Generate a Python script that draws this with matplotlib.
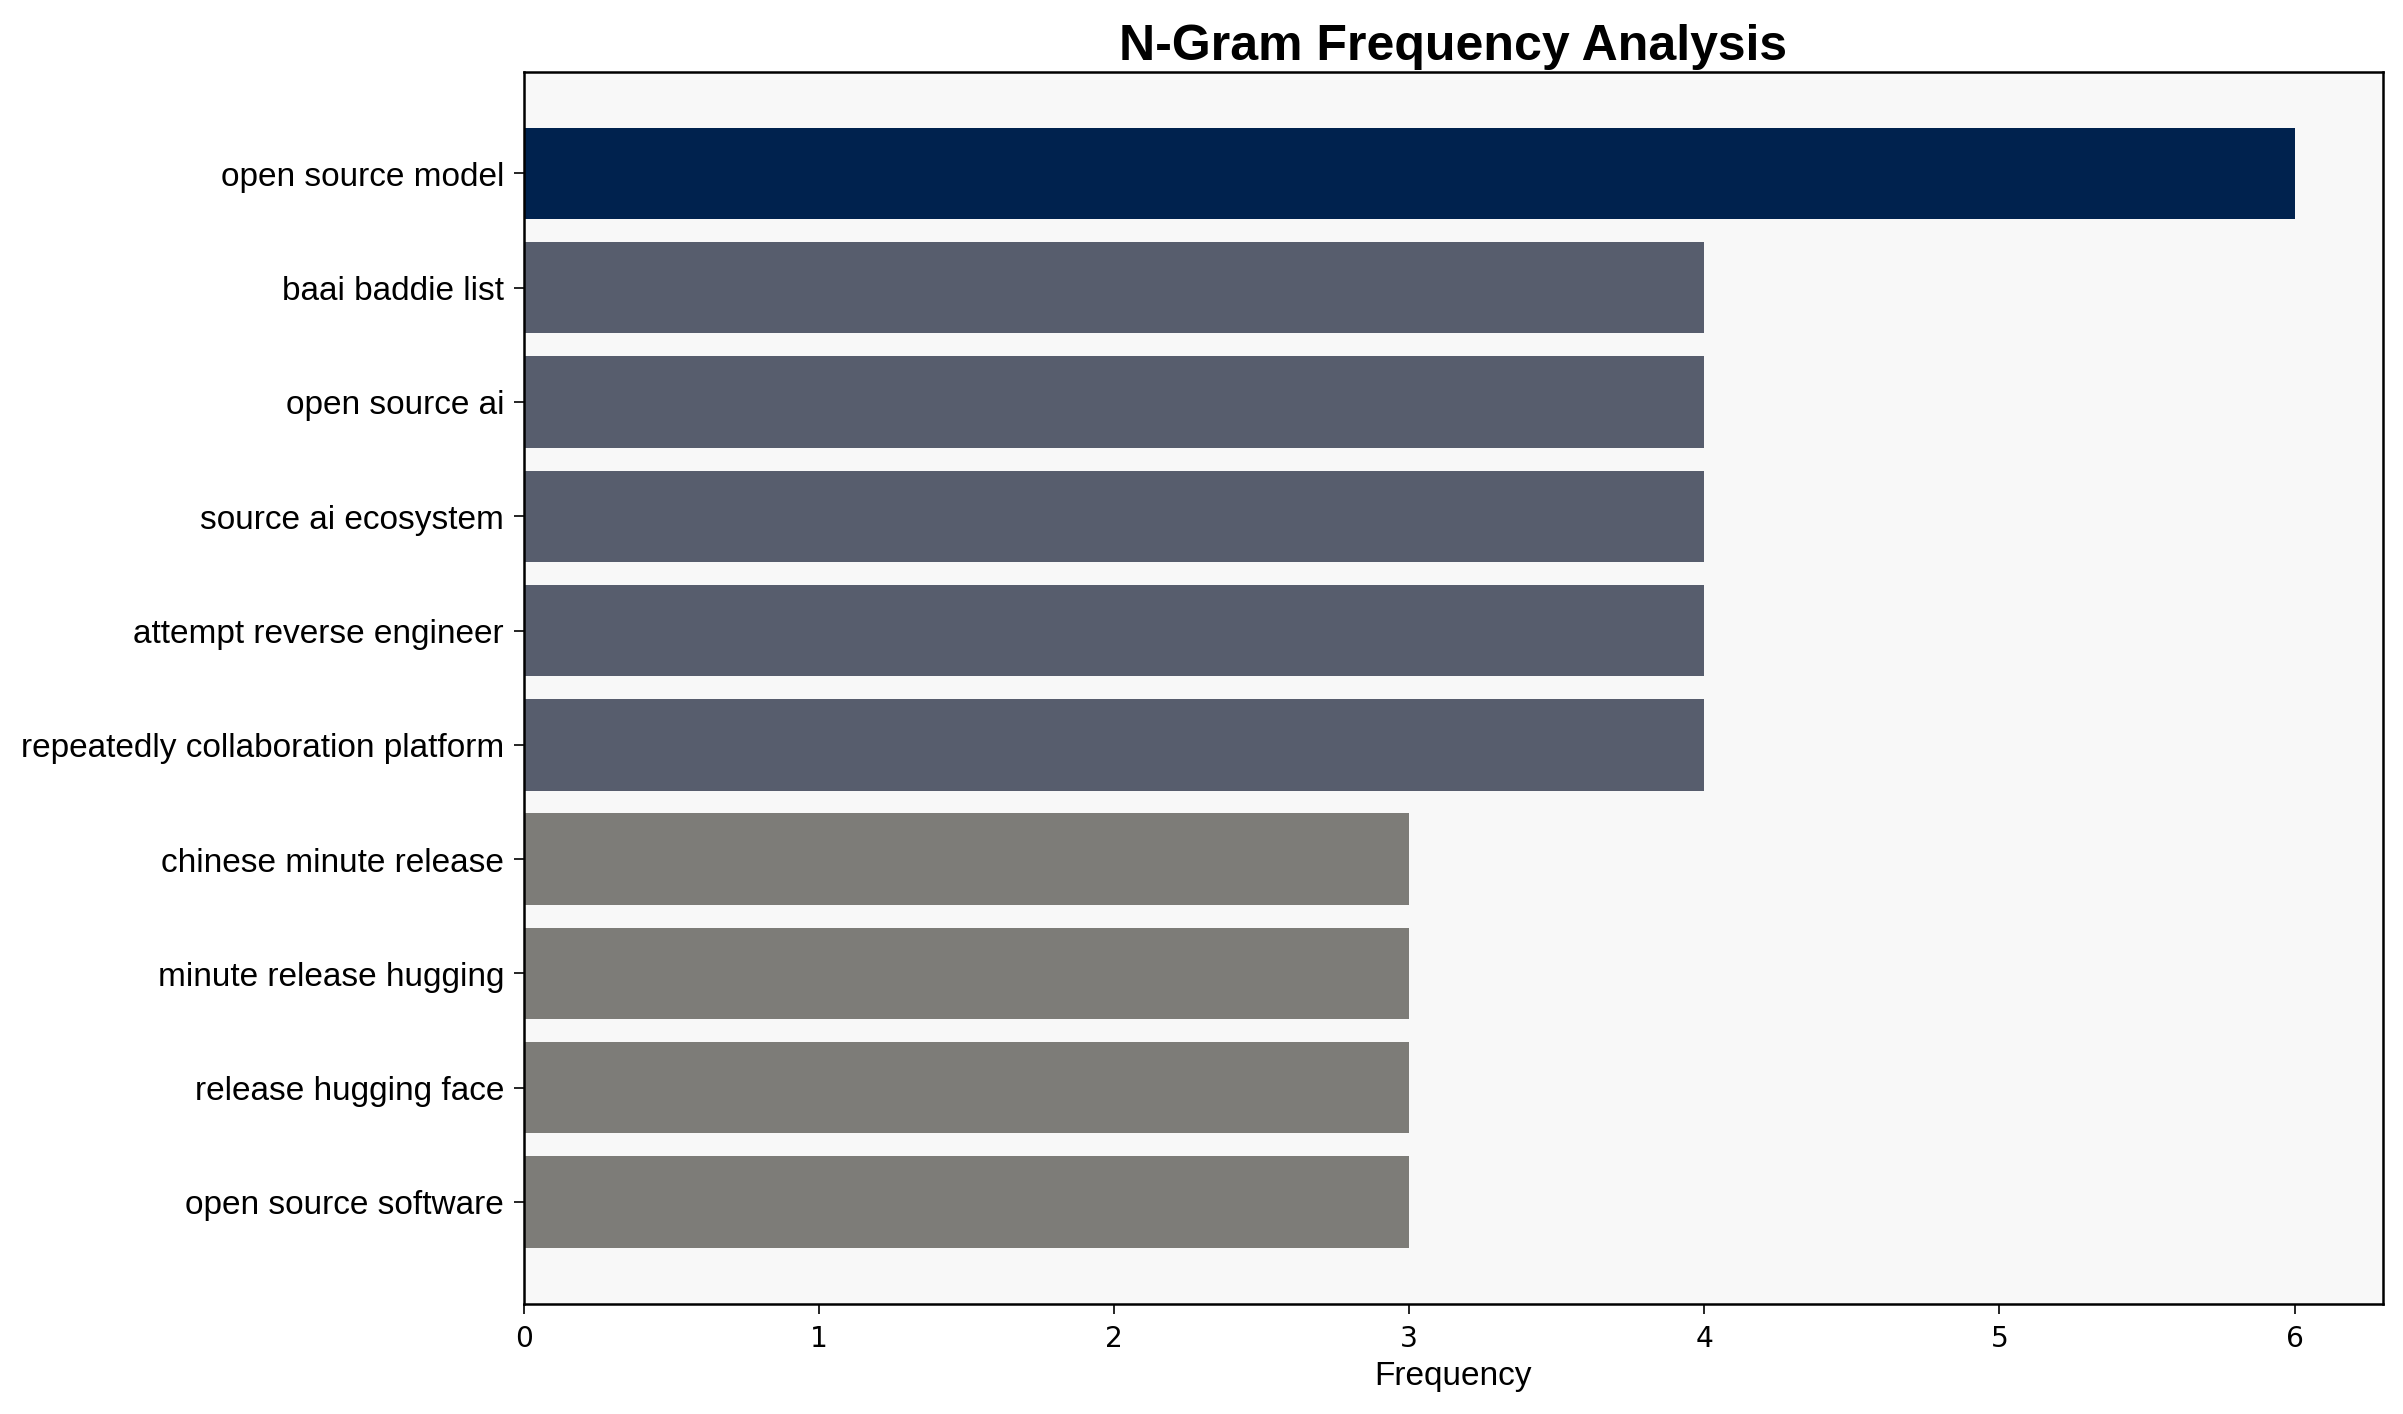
import matplotlib
matplotlib.use('Agg')
import matplotlib.pyplot as plt
import numpy as np

# n-gram counts, top first
ngrams = [
    'open source model',
    'baai baddie list',
    'open source ai',
    'source ai ecosystem',
    'attempt reverse engineer',
    'repeatedly collaboration platform',
    'chinese minute release',
    'minute release hugging',
    'release hugging face',
    'open source software',
]
counts = [6, 4, 4, 4, 4, 4, 3, 3, 3, 3]

fig = plt.figure(figsize=(16.02, 9.43), dpi=150)
ax = fig.add_axes([0.218, 0.078, 0.7737, 0.871])
ax.set_facecolor('#f8f8f8')

# darker bar = more frequent
cmap = plt.get_cmap('cividis')
colors = [cmap(1 - c / max(counts)) for c in counts]

y = np.arange(len(ngrams))
ax.barh(y, counts, height=0.8, color=colors)
ax.set_yticks(y)
ax.set_yticklabels(ngrams, fontsize=16, family='Liberation Sans')
ax.invert_yaxis()

ax.tick_params(axis='x', labelsize=13.5, length=5, pad=5)
ax.tick_params(axis='y', length=5, pad=4.5)
ax.set_xlabel('Frequency', fontsize=16, family='Liberation Sans')
ax.set_title('N-Gram Frequency Analysis', fontsize=24, fontweight='bold',
             family='Liberation Sans')

for s in ax.spines.values():
    s.set_linewidth(1.2)

fig.savefig('out.png', dpi=150)
